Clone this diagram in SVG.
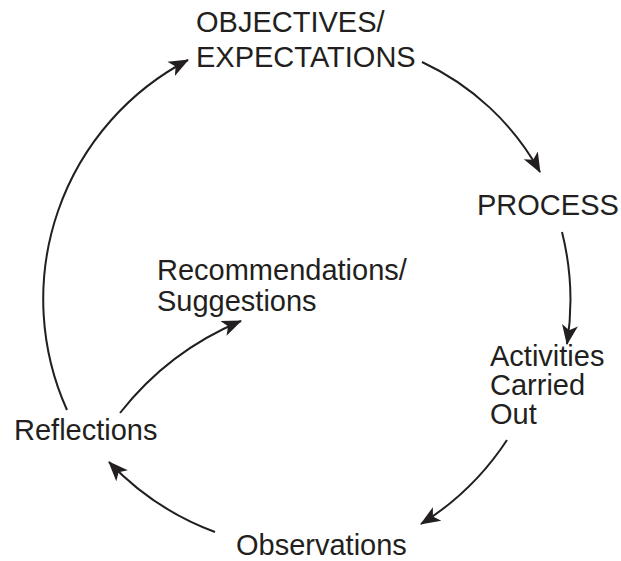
<svg xmlns="http://www.w3.org/2000/svg" width="621" height="561" viewBox="0 0 621 561">
<style>
text{font-family:"Liberation Sans",Arial,sans-serif;font-size:29px;fill:#231f20}
.c{fill:none;stroke:#231f20;stroke-width:2}
</style>
<defs>
<marker id="ah" markerUnits="userSpaceOnUse" markerWidth="22" markerHeight="18" refX="19" refY="8" orient="auto" viewBox="0 0 22 16">
<path d="M0,0 L20,8 L0,16 L5,8 z" fill="#231f20"/>
</marker>
</defs>
<rect width="621" height="561" fill="#fff"/>
<g id="objectives"><text x="196" y="32">OBJECTIVES/</text><text x="196" y="67">EXPECTATIONS</text></g>
<g id="process"><text x="477" y="215">PROCESS</text></g>
<g id="recommendations"><text x="157" y="280">Recommendations/</text><text x="157" y="311">Suggestions</text></g>
<g id="activities"><text x="490" y="366">Activities</text><text x="490" y="395">Carried</text><text x="490" y="424">Out</text></g>
<g id="reflections"><text x="14" y="440">Reflections</text></g>
<g id="observations"><text x="236" y="555">Observations</text></g>
<g id="connectors">
<path class="c" d="M67 410 A270 270 0 0 1 188 60" marker-end="url(#ah)"/>
<path class="c" d="M422 62 A260 260 0 0 1 540 172" marker-end="url(#ah)"/>
<path class="c" d="M562 232 A280 280 0 0 1 567 344" marker-end="url(#ah)"/>
<path class="c" d="M507 440 A280 280 0 0 1 421 524" marker-end="url(#ah)"/>
<path class="c" d="M215 532 A280 280 0 0 1 109 462" marker-end="url(#ah)"/>
<path class="c" d="M120 413 A300 300 0 0 1 241 321" marker-end="url(#ah)"/>
</g>
</svg>
